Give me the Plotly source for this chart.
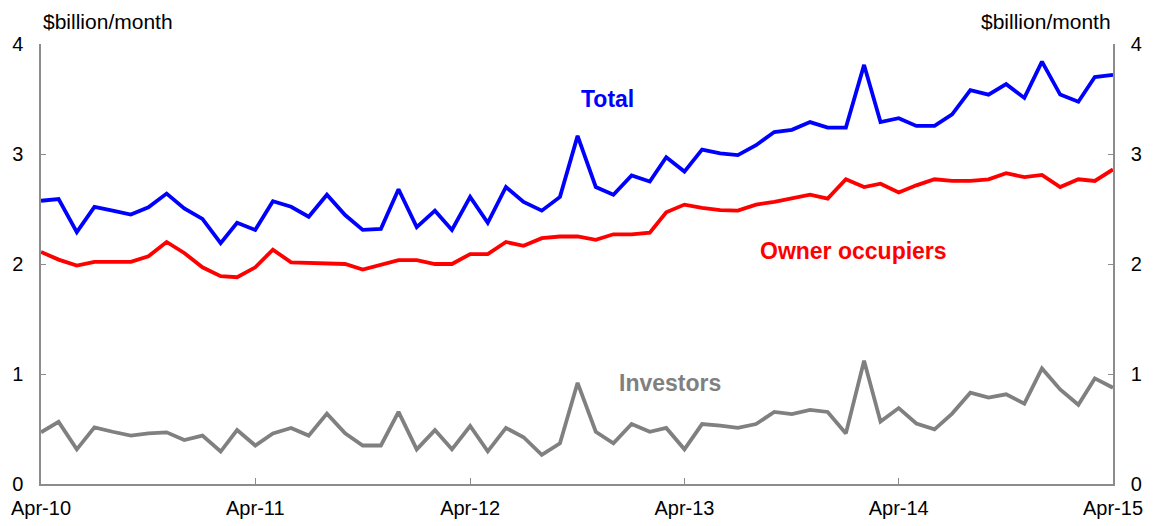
import pandas as pd
import plotly.graph_objects as go

months = pd.date_range("2010-04-01", periods=61, freq="MS")

total = [2.575, 2.59, 2.29, 2.52, 2.485, 2.45, 2.515, 2.64, 2.505, 2.41,
         2.19, 2.375, 2.31, 2.57, 2.52, 2.43, 2.63, 2.445, 2.31, 2.32,
         2.68, 2.336, 2.485, 2.31, 2.61, 2.375, 2.70, 2.565, 2.485, 2.61,
         3.165, 2.70, 2.63, 2.805, 2.75, 2.97, 2.84, 3.04, 3.005, 2.99,
         3.08, 3.20, 3.22, 3.29, 3.24, 3.24, 3.81, 3.29, 3.325, 3.255,
         3.255, 3.36, 3.58, 3.54, 3.635, 3.51, 3.84, 3.54, 3.475, 3.70,
         3.72]

owner_occupiers = [2.11, 2.04, 1.985, 2.02, 2.02, 2.02, 2.07, 2.20, 2.10, 1.97,
                   1.89, 1.88, 1.97, 2.13, 2.015, 2.01, 2.00, 2.00, 1.95, 1.99,
                   2.036, 2.036, 2.00, 2.00, 2.09, 2.09, 2.20, 2.165, 2.235, 2.25,
                   2.25, 2.22, 2.27, 2.27, 2.285, 2.47, 2.54, 2.51, 2.49, 2.485,
                   2.54, 2.565, 2.60, 2.63, 2.595, 2.77, 2.70, 2.73, 2.65, 2.715,
                   2.77, 2.755, 2.755, 2.77, 2.825, 2.79, 2.81, 2.70, 2.77, 2.755,
                   2.86]

investors = [0.47, 0.565, 0.315, 0.515, 0.475, 0.44, 0.46, 0.47, 0.40, 0.44,
             0.295, 0.49, 0.35, 0.46, 0.51, 0.44, 0.64, 0.46, 0.35, 0.35,
             0.655, 0.315, 0.49, 0.315, 0.527, 0.297, 0.51, 0.425, 0.264, 0.37,
             0.92, 0.475, 0.37, 0.545, 0.475, 0.51, 0.315, 0.545, 0.53, 0.51,
             0.545, 0.655, 0.636, 0.673, 0.655, 0.46, 1.12, 0.567, 0.69, 0.55,
             0.497, 0.64, 0.83, 0.785, 0.815, 0.73, 1.05, 0.86, 0.72, 0.96,
             0.875]

font = "Arial, Liberation Sans, sans-serif"
axis_grey = "#8c8c8c"

fig = go.Figure()
fig.add_trace(go.Scatter(x=months, y=total, mode="lines", name="Total",
                         line=dict(color="#0000ff", width=3.8)))
fig.add_trace(go.Scatter(x=months, y=owner_occupiers, mode="lines", name="Owner occupiers",
                         line=dict(color="#ff0000", width=3.8)))
fig.add_trace(go.Scatter(x=months, y=investors, mode="lines", name="Investors",
                         line=dict(color="#808080", width=3.8)))
# same total on the right axis, hidden, so the axis is drawn
fig.add_trace(go.Scatter(x=months, y=total, mode="lines", yaxis="y2",
                         line=dict(width=0), hoverinfo="skip", opacity=0))

yaxis_common = dict(range=[0, 4], dtick=1, ticks="inside", ticklen=5,
                    tickcolor=axis_grey, showline=True, linecolor=axis_grey,
                    linewidth=1.5, showgrid=False, zeroline=False, automargin=False,
                    tickfont=dict(size=20, color="black", family=font),
                    ticklabelstandoff=12)

# the page body adds an 8px offset, margins account for it
fig.update_layout(
    width=1158, height=526,
    margin=dict(l=33, r=53, t=36, b=50),
    plot_bgcolor="white", paper_bgcolor="white",
    showlegend=False,
    font=dict(family=font, size=20, color="black"),
    xaxis=dict(range=[months[0], months[-1]], tick0="2010-04-01", dtick="M12",
               tickformat="%b-%y", ticks="inside", ticklen=6, tickcolor=axis_grey,
               showline=True, linecolor=axis_grey, linewidth=1.5, showgrid=False,
               zeroline=False, automargin=False, ticklabelstandoff=5,
               tickfont=dict(size=20, color="black", family=font)),
    yaxis=dict(side="left", **yaxis_common),
    yaxis2=dict(side="right", overlaying="y", **yaxis_common),
)

labels = [
    ("Total", 0.528, 0.875, "#0000ff"),
    ("Owner occupiers", 0.7575, 0.5295, "#ff0000"),
    ("Investors", 0.587, 0.2295, "#808080"),
]
for text, x, y, color in labels:
    fig.add_annotation(text="<b>%s</b>" % text, x=x, y=y, xref="paper", yref="paper",
                       xanchor="center", yanchor="middle", showarrow=False,
                       font=dict(size=23, color=color, family=font))

fig.add_annotation(text="$billion/month", x=0, y=1.0, xref="paper", yref="paper",
                   xanchor="left", yanchor="bottom", yshift=9, showarrow=False,
                   font=dict(size=21, family=font))
fig.add_annotation(text="$billion/month", x=1, y=1.0, xref="paper", yref="paper",
                   xanchor="right", yanchor="bottom", yshift=9, showarrow=False,
                   font=dict(size=21, family=font))

fig.write_html("out.html")
